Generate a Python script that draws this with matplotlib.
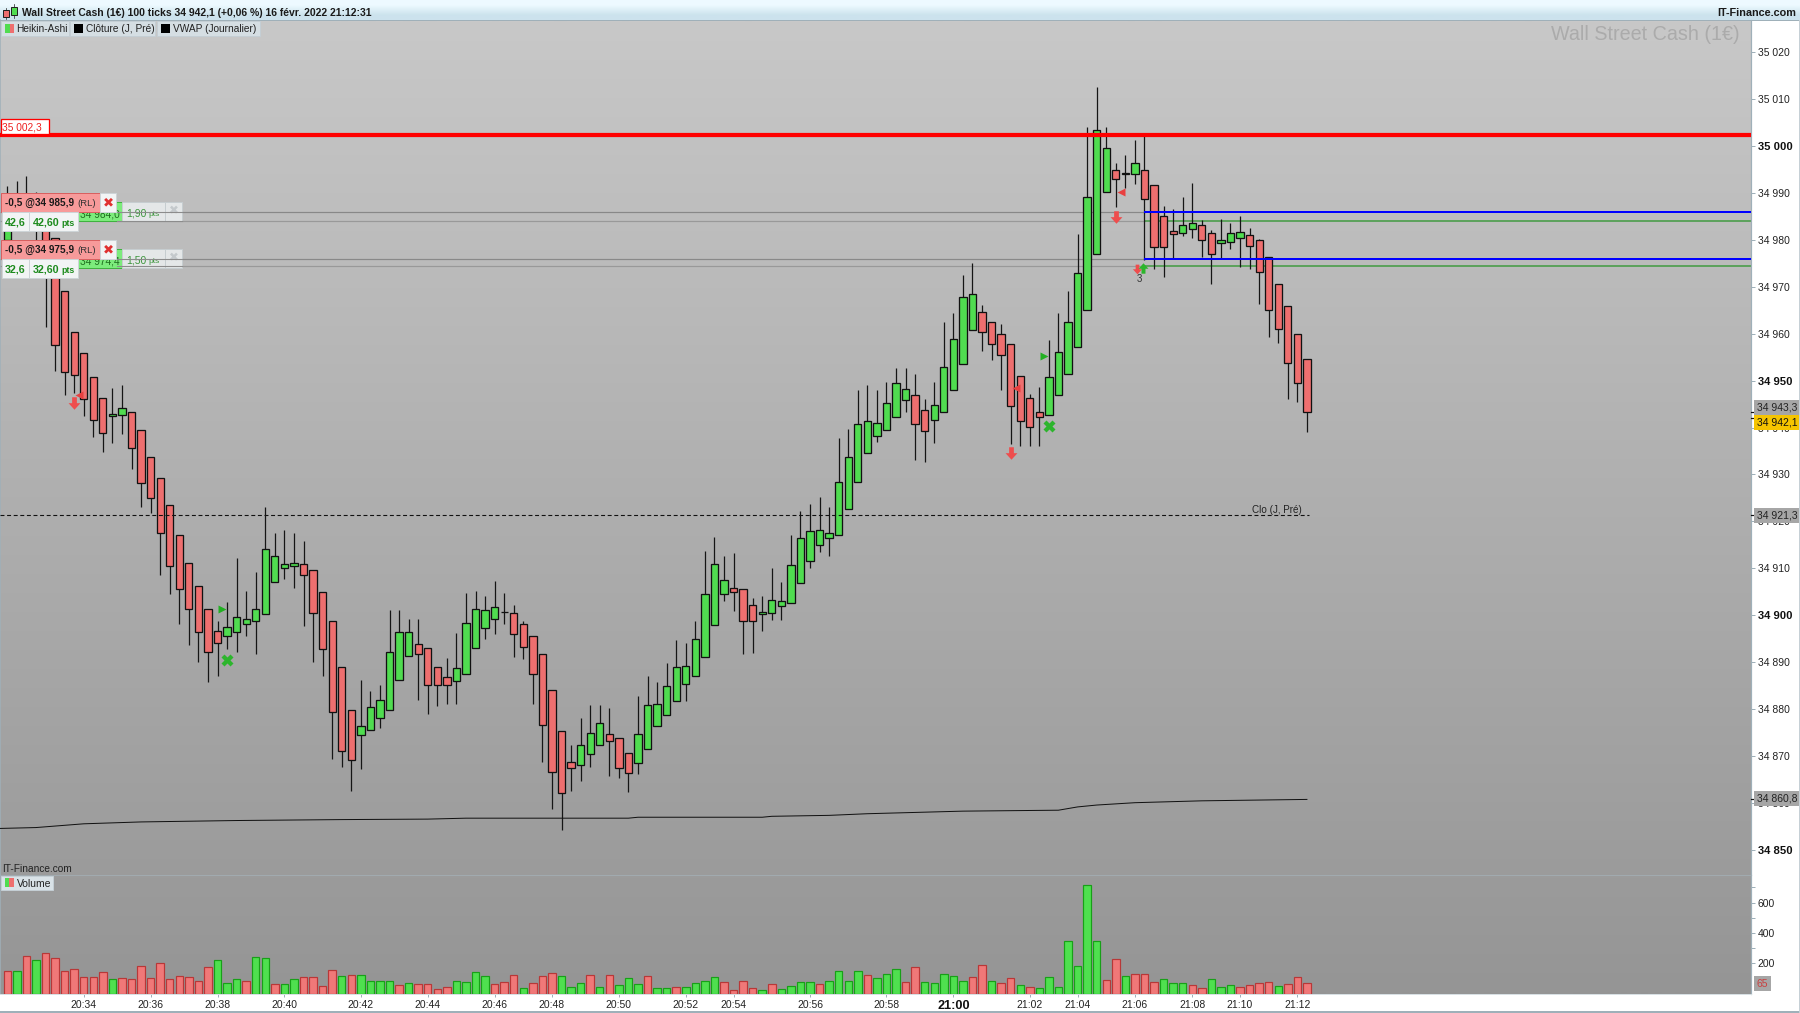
import numpy as np
import matplotlib
matplotlib.use("Agg")
import matplotlib.pyplot as plt
from matplotlib.patches import Rectangle
from matplotlib.path import Path

plt.rcParams['font.family'] = ['Liberation Sans', 'DejaVu Sans']

# ---- data: Heikin-Ashi candles ----
opens = [34980.0,34983.0,34983.4,34988.5,34985.3,34980.4,34969.1,34960.4,34955.8,34950.8,
         34946.2,34942.5,34942.7,34943.4,34939.5,34933.8,34929.2,34923.4,34917.0,34911.2,
         34906.3,34901.2,34896.7,34895.5,34896.5,34898.1,34898.7,34900.2,34907.1,34910.0,
         34910.5,34910.8,34909.6,34905.0,34898.8,34889.0,34879.8,34874.4,34875.5,34878.1,
         34879.8,34886.1,34891.2,34893.9,34892.9,34889.0,34886.9,34885.9,34887.4,34892.9,
         34897.3,34899.1,34900.6,34900.4,34898.2,34895.6,34891.6,34884.0,34875.3,34868.6,
         34868.1,34870.3,34872.4,34874.6,34873.9,34870.7,34868.5,34871.5,34876.3,34878.6,
         34881.7,34885.3,34887.1,34891.1,34897.8,34904.4,34905.8,34905.5,34902.1,34900.3,
         34900.4,34901.9,34902.5,34906.8,34911.5,34914.9,34916.4,34917.1,34922.7,34928.3,
         34934.5,34938.1,34939.5,34942.3,34945.9,34947.0,34943.8,34941.7,34943.3,34948.1,
         34953.5,34960.7,34964.7,34962.4,34960.0,34957.9,34951.0,34946.2,34943.2,34942.7,
         34946.9,34951.5,34957.1,34965.1,34977.1,34990.3,34995.0,34994.0,34994.1,34995.0,
         34991.8,34985.2,34981.8,34981.5,34982.3,34983.1,34981.5,34979.3,34979.5,34980.5,
         34981.1,34979.9,34976.4,34970.7,34965.8,34959.9,34954.7]
closes = [34987.4,34988.9,34989.4,34983.0,34974.0,34957.5,34951.9,34951.3,34946.1,34941.5,
          34938.9,34942.8,34944.1,34935.7,34928.1,34924.9,34917.6,34910.5,34905.5,34901.2,
          34896.3,34892.1,34894.1,34897.4,34899.6,34899.2,34901.4,34914.2,34912.7,34911.0,
          34911.2,34908.5,34900.4,34892.7,34879.3,34871.0,34869.0,34876.4,34880.5,34881.8,
          34892.2,34896.3,34896.5,34891.6,34885.2,34885.0,34885.0,34888.8,34898.4,34901.4,
          34901.0,34901.8,34900.6,34895.9,34893.3,34887.5,34876.5,34866.5,34862.1,34867.5,
          34872.4,34874.9,34876.9,34873.1,34867.5,34866.3,34874.6,34880.8,34881.0,34884.9,
          34888.9,34889.1,34895.0,34904.6,34910.9,34907.5,34904.9,34898.7,34898.7,34900.7,
          34903.3,34903.1,34910.6,34916.4,34918.0,34918.1,34917.6,34928.3,34933.8,34940.7,
          34941.4,34940.9,34945.3,34949.4,34948.3,34940.7,34939.2,34944.9,34952.8,34958.9,
          34967.9,34968.5,34960.3,34957.7,34955.5,34944.5,34941.3,34940.2,34942.3,34950.8,
          34956.0,34962.4,34973.0,34989.1,35003.4,34999.7,34992.9,34994.3,34996.3,34988.7,
          34978.5,34978.5,34981.3,34983.1,34983.7,34979.9,34977.1,34979.9,34981.5,34981.7,
          34978.6,34973.1,34965.1,34961.1,34953.8,34949.5,34943.2]
highs = [34991.5,34992.6,34993.6,34990.2,34987.4,34980.4,34969.1,34960.4,34955.8,34950.8,
         34946.2,34948.5,34949.1,34943.4,34939.5,34933.8,34929.2,34923.4,34917.0,34911.2,
         34906.3,34901.2,34898.7,34902.7,34912.1,34905.1,34909.1,34923.1,34917.6,34918.1,
         34917.6,34915.7,34909.6,34905.0,34898.8,34889.0,34879.8,34886.1,34883.8,34885.1,
         34901.1,34901.1,34899.2,34899.2,34892.9,34889.0,34890.8,34896.1,34904.7,34905.1,
         34904.1,34907.2,34904.7,34902.1,34898.7,34895.6,34891.6,34884.0,34875.3,34872.3,
         34878.1,34880.8,34880.8,34880.1,34873.9,34870.7,34882.8,34887.1,34885.7,34889.7,
         34894.7,34894.1,34898.7,34913.7,34916.7,34912.7,34913.2,34905.5,34903.7,34904.1,
         34910.1,34907.1,34917.1,34922.1,34923.7,34925.1,34923.1,34937.7,34939.7,34948.1,
         34949.1,34948.1,34949.6,34952.6,34952.6,34951.5,34946.1,34949.6,34962.6,34964.5,
         34972.5,34975.1,34966.1,34962.4,34962.1,34957.9,34951.0,34947.1,34948.6,34958.6,
         34964.5,34969.1,34981.2,35004.1,35012.5,35004.1,34996.5,34998.2,35001.2,35002.4,
         34991.8,34987.2,34986.5,34989.1,34992.1,34984.2,34982.1,34984.5,34983.5,34985.1,
         34982.5,34980.2,34976.4,34970.7,34965.8,34959.9,34954.7]
lows = [34979.6,34982.3,34982.5,34977.8,34961.5,34952.0,34947.0,34947.4,34942.5,34938.0,
        34934.7,34936.6,34938.6,34931.1,34923.1,34921.7,34908.6,34904.6,34898.0,34893.6,
        34890.1,34885.7,34887.1,34892.7,34892.1,34895.6,34891.6,34900.2,34907.1,34907.6,
        34905.7,34897.7,34890.1,34887.1,34869.3,34867.7,34862.4,34867.2,34875.5,34876.0,
        34879.8,34886.1,34891.2,34882.0,34879.0,34880.6,34881.0,34881.0,34887.4,34892.9,
        34895.0,34896.0,34898.0,34891.0,34890.6,34881.0,34868.6,34858.7,34854.2,34862.6,
        34864.6,34867.7,34872.4,34865.6,34865.2,34862.2,34866.2,34871.5,34876.3,34878.6,
        34881.7,34881.6,34887.1,34891.1,34897.8,34903.1,34900.9,34891.6,34892.0,34896.7,
        34899.0,34899.0,34902.5,34906.8,34910.0,34913.5,34912.7,34917.1,34922.7,34928.3,
        34934.5,34937.0,34939.5,34942.3,34943.4,34933.0,34932.6,34936.6,34943.3,34948.1,
        34953.5,34960.7,34956.4,34954.4,34948.0,34936.5,34936.1,34936.1,34936.1,34942.7,
        34946.9,34951.5,34957.1,34965.1,34977.1,34990.3,34987.1,34991.0,34992.0,34975.7,
        34973.9,34972.0,34976.1,34980.9,34980.5,34976.4,34970.5,34976.1,34978.0,34974.3,
        34973.9,34966.4,34959.4,34958.0,34946.0,34945.4,34939.0]

volumes = [149,149,247,219,265,237,149,160,107,107,142,94,101,94,180,101,199,94,114,107,
           81,173,223,68,94,81,241,237,61,61,94,107,107,50,153,114,125,125,81,81,
           81,57,68,61,61,31,44,81,74,142,114,61,74,125,37,68,118,136,118,44,
           68,125,44,125,57,101,61,114,37,37,44,44,68,81,107,74,24,81,37,24,
           61,31,50,74,74,61,81,149,81,149,125,101,129,160,74,173,74,68,129,118,
           81,112,186,81,68,101,57,44,37,107,44,346,180,712,346,88,230,118,131,131,
           74,94,68,68,57,37,94,44,57,44,57,68,74,50,61,107,68]
volume_colors = list("rgrgrrrrrr" "rgrrrrrrrr" "rrgggrggrg" "grrrrgrggg" "grgrrrrggg"
                     "grrrgrrrgg" "grgrgggrgg" "rggggrrrrg" "rggggrgggg" "rgggrrgggg"
                     "grrgrrgrgg" "gggggrrgrr" "rgggrrgggr" "rrrgrrr")

vwap_index = [-1,3,8,14,24,35,44,48,65,66,79,80,86,90,100,110,112,114,118,125,136]
vwap_price = [34854.5,34854.7,34855.5,34855.9,34856.2,34856.4,34856.5,34856.7,34856.7,34856.9,
              34856.9,34857.1,34857.3,34857.65,34858.2,34858.4,34859.1,34859.5,34860.0,34860.4,34860.7]

prev_close = 34921.3
resistance = 35002.3
stop_levels = [34985.9, 34975.9]
target_levels = [34984.0, 34974.4]
last_heikin = 34943.3
last_price = 34942.1
last_vwap = 34860.8
last_volume = 65

time_tick_index = [8,15,22,29,37,44,51,57,64,71,76,84,92,99,107,112,118,124,129,135]
time_tick_label = ["20:34","20:36","20:38","20:40","20:42","20:44","20:46","20:48","20:50","20:52",
                   "20:54","20:56","20:58","21:00","21:02","21:04","21:06","21:08","21:10","21:12"]
price_ticks = list(range(34850, 35021, 10))
volume_ticks = [200, 400, 600]
volume_minor = [300, 500, 700]

arrow_down_i = [7, 105, 116]
arrow_down_p = [34945.3, 34934.6, 34984.9]
small_down_i, small_down_p = [118.2], [34973.7]
small_up_i, small_up_p = [118.8], [34974.1]
tri_left_i = [7.5, 105.6, 116.5]
tri_left_p = [34946.9, 34948.4, 34990.3]
tri_right_i = [22.45, 108.5]
tri_right_p = [34901.3, 34955.2]
cross_i = [23, 109]
cross_p = [34890.4, 34940.4]

# ---- layout (pixels) ----
W, H = 1800, 1013
PX = 0.72
PLOT_R, TOP, SEP, BOT = 1750.7, 20.0, 874.7, 993.7
X0, DX = 7.3, 9.556
Y0, DY = 52.3, 4.69          # y pixel of 35020, pixels per point
V_PX = 0.152

GREEN, RED = '#50DC50', '#EE6F6F'
AX_C = '#9FB0B9'

fig = plt.figure(figsize=(W/100, H/100), dpi=100, facecolor='white')

def axes_px(l, t, r, b, **kw):
    return fig.add_axes([l/W, 1-b/H, (r-l)/W, (b-t)/H], **kw)

# background
bg = axes_px(0, 0, W, H, zorder=0)
bg.set_xlim(0, W); bg.set_ylim(H, 0); bg.axis('off')
grad = np.linspace(0xC8, 0x95, 300)[:, None, None].repeat(3, axis=2) / 255
bg.imshow(grad, extent=(0, PLOT_R, BOT, TOP), aspect='auto', interpolation='bilinear', zorder=0)
head = np.array([[0.93, 0.98, 1.0], [0.80, 0.89, 0.93]])[:, None, :]
bg.imshow(head, extent=(0, W, TOP, 0), aspect='auto', interpolation='bilinear', zorder=0)
bg.set_xlim(0, W); bg.set_ylim(H, 0)

xlim = ((0-X0)/DX, (PLOT_R-X0)/DX)

# main price axes
ax = axes_px(0, TOP, PLOT_R, SEP, zorder=2)
ax.patch.set_alpha(0)
ax.set_xlim(*xlim)
ax.set_ylim(35020-(SEP-Y0)/DY, 35020+(Y0-TOP)/DY)
idx = np.arange(len(opens))
o, c, hi, lo = map(np.array, (opens, closes, highs, lows))
up = c >= o
ax.vlines(idx, lo, hi, color='#151515', lw=1.25*PX, zorder=3)
ax.bar(idx, np.abs(c-o), bottom=np.minimum(o, c), width=0.76,
       color=[GREEN if u else RED for u in up], edgecolor='#111111', linewidth=1.3*PX, zorder=4)

# horizontal levels
end_i = len(opens)-1
ax.plot([xlim[0], xlim[1]], [resistance]*2, color='#FF0000', lw=4.2*PX, zorder=6, solid_capstyle='butt')
split = (1145-X0)/DX
for v in stop_levels:
    ax.plot([xlim[0], split], [v]*2, color='#888888', lw=1.2*PX, zorder=2)
    ax.plot([split, xlim[1]], [v]*2, color='#0000FF', lw=2*PX, zorder=6)
for v in target_levels:
    ax.plot([xlim[0], split], [v]*2, color='#999999', lw=1.2*PX, zorder=2)
    ax.plot([split, xlim[1]], [v]*2, color='#3F9A3F', lw=1.5*PX, zorder=2)
ax.plot([xlim[0], end_i+0.2], [prev_close]*2, color='#111111', lw=1.1*PX, ls=(0, (3.6, 2.4)), zorder=5)
ax.plot(vwap_index, vwap_price, color='#111111', lw=1.0*PX, zorder=5)
ax.text(end_i-0.5, prev_close+0.1, "Clo (J, Pré)", ha='right', va='bottom', fontsize=7.1, color='#222222', zorder=7)

# signals
down_path = Path([(-0.38,1),(0.38,1),(0.38,0.05),(0.95,0.05),(0,-1),(-0.95,0.05),(-0.38,0.05),(-0.38,1)], closed=True)
up_path = Path([(-0.38,-1),(0.38,-1),(0.38,-0.05),(0.95,-0.05),(0,1),(-0.95,-0.05),(-0.38,-0.05),(-0.38,-1)], closed=True)
ax.plot(arrow_down_i, arrow_down_p, ls='', marker=down_path, ms=9, mfc='#EE4D4D', mec='none', zorder=7)
ax.plot(small_down_i, small_down_p, ls='', marker=down_path, ms=7, mfc='#EE4D4D', mec='none', zorder=7)
ax.plot(small_up_i, small_up_p, ls='', marker=up_path, ms=7.5, mfc='#2BB52B', mec='none', zorder=7)
ax.plot(tri_left_i, tri_left_p, ls='', marker='<', ms=5.5, mfc='#E84040', mec='none', zorder=7)
ax.plot(tri_right_i, tri_right_p, ls='', marker='>', ms=5.5, mfc='#22B022', mec='none', zorder=7)
ax.plot(cross_i, cross_p, ls='', marker='X', ms=8.5, mfc='#2DB52D', mec='none', zorder=7)
ax.text(118.5, 34971.7, "3", ha='center', va='center', fontsize=7, color='#333333', zorder=7)

ax.set_xticks([])
ax.yaxis.tick_right()
ax.set_yticks(price_ticks)
ax.set_yticklabels([f"{t//1000} {t%1000:03d}" for t in price_ticks], fontsize=7.5, color='#222222')
for t, lab in zip(price_ticks, ax.get_yticklabels()):
    if t % 50 == 0:
        lab.set_fontweight('bold'); lab.set_fontsize(8.1); lab.set_color('#111111')
ax.tick_params(axis='y', length=4*PX, width=1*PX, color=AX_C, pad=2.2)
for s in ('top', 'bottom'):
    ax.spines[s].set_visible(False)
ax.spines['left'].set_color(AX_C); ax.spines['left'].set_linewidth(1.5*PX)
ax.spines['right'].set_color(AX_C); ax.spines['right'].set_linewidth(1.2*PX)

def price_box(v, txt_s, face, tc='#222222', shift_px=0):
    ax.annotate(txt_s, xy=(1, v), xycoords=ax.get_yaxis_transform(), xytext=(6.2*PX, shift_px*PX),
                textcoords='offset points', ha='left', va='center', fontsize=7.5, color=tc,
                annotation_clip=False, zorder=9,
                bbox=dict(boxstyle='square,pad=0.24', fc=face, ec='none'))
    ax.plot([1, 1.0025], [v, v], transform=ax.get_yaxis_transform(), color='#111111', lw=1.2*PX, clip_on=False, zorder=8)

price_box(last_heikin, "34 943,3", '#A6A6A6', shift_px=4.5)
price_box(prev_close, "34 921,3", '#A6A6A6')
price_box(last_vwap, "34 860,8", '#A6A6A6')
price_box(last_price, "34 942,1", '#F5C400', '#111111', shift_px=-5)

# volume axes
av = axes_px(0, SEP, PLOT_R, BOT, zorder=2)
av.patch.set_alpha(0)
av.set_xlim(*xlim)
av.set_ylim(0, (BOT-SEP)/V_PX)
fills = {'g': '#4FE04F', 'r': '#F07878'}
edges = {'g': '#18A018', 'r': '#B83838'}
vc = volume_colors
av.bar(idx, volumes, width=0.78, color=[fills[k] for k in vc], edgecolor=[edges[k] for k in vc],
       linewidth=1.2*PX, zorder=3)
av.set_xticks(time_tick_index)
av.set_xticklabels(time_tick_label, fontsize=7.5, color='#222222')
for t, lab in zip(time_tick_label, av.get_xticklabels()):
    if t == "21:00":
        lab.set_fontweight('bold'); lab.set_fontsize(9.2); lab.set_color('#111111')
av.tick_params(axis='x', length=3*PX, width=1*PX, color=AX_C, pad=2.5)
av.yaxis.tick_right()
av.set_yticks(volume_ticks)
av.set_yticklabels([str(v) for v in volume_ticks], fontsize=7.5, color='#222222')
av.set_yticks(volume_minor, minor=True)
av.tick_params(axis='y', which='both', length=4*PX, width=1*PX, color=AX_C, pad=2.2)
av.spines['top'].set_color('#A3AFB5'); av.spines['top'].set_linewidth(0.8*PX)
av.spines['bottom'].set_color('#D8E0E4'); av.spines['bottom'].set_linewidth(1*PX)
av.spines['left'].set_color(AX_C); av.spines['left'].set_linewidth(1.5*PX)
av.spines['right'].set_color(AX_C); av.spines['right'].set_linewidth(1.2*PX)
av.annotate(str(last_volume), xy=(1, last_volume), xycoords=av.get_yaxis_transform(), xytext=(6.2*PX, 0),
            textcoords='offset points', ha='left', va='center', fontsize=7.5, color='#C84040',
            annotation_clip=False, zorder=9, bbox=dict(boxstyle='square,pad=0.24', fc='#A6A6A6', ec='none'))

# interface overlay
ov = axes_px(0, 0, W, H, zorder=5)
ov.set_xlim(0, W); ov.set_ylim(H, 0); ov.axis('off'); ov.patch.set_alpha(0)

def box(x0, y0, x1, y1, fc, ec='#C4CED4', lw=1, z=1):
    ov.add_patch(Rectangle((x0, y0), x1-x0, y1-y0, fc=fc, ec=ec, lw=lw*PX, zorder=z))

def txt(x, y, s, size=7.5, color='#222222', weight='normal', ha='left', z=3):
    ov.text(x, y+0.7, s, fontsize=size, color=color, fontweight=weight, ha=ha, va='center', zorder=z)

# header
ov.plot([0, W], [20, 20], color='#9FB0B9', lw=1*PX, zorder=1)
box(3, 10, 9, 17, '#EE6F6F', '#222222')
box(10.5, 7, 16.5, 15, '#50DC50', '#222222')
ov.plot([6, 6], [8, 19], color='#222222', lw=0.7*PX, zorder=0.9)
ov.plot([13.5, 13.5], [4, 18], color='#222222', lw=0.7*PX, zorder=0.9)
txt(21.5, 12, "Wall Street Cash (1€) 100 ticks 34 942,1 (+0,06 %) 16 févr. 2022 21:12:31", 7.45, '#1A1A1A', 'bold')
txt(1796, 12, "IT-Finance.com", 7.8, '#1A1A1A', 'bold', 'right')
txt(1740, 33.5, "Wall Street Cash (1€)", 14.2, '#ABABAB', 'normal', 'right')

# legend chips
for x0, x1, swatch, label in [(1, 69, None, "Heikin-Ashi"), (70, 155, 'k', "Clôture (J, Pré)"), (157, 260, 'k', "VWAP (Journalier)")]:
    box(x0, 21, x1, 36, '#D5DEE3')
    if swatch is None:
        ov.add_patch(Rectangle((5, 23.5), 4.5, 9, fc='#50DC50', ec='none', zorder=2))
        ov.add_patch(Rectangle((9.5, 23.5), 4.5, 9, fc='#EE6F6F', ec='none', zorder=2))
        txt(16.5, 28.5, label, 7.3)
    else:
        ov.add_patch(Rectangle((x0+4, 23.5), 9, 9, fc='k', ec='none', zorder=2))
        txt(x0+16, 28.5, label, 7.3)

# red level tag
box(1, 118.5, 48.5, 133.5, 'white', '#FF0000', 1.3)
txt(2.5, 127, "35 002,3", 7.3, '#EE2020')

# order tags
for y, price, pts, tgt_price, tgt_pts in [(193, "34 985,9", "42,6", "34 984,0", "1,90"), (240, "34 975,9", "32,6", "34 974,4", "1,50")]:
    t0 = y + 9
    box(78, t0, 122, t0+19, '#7CEB7C', '#3FB23F', z=1)
    txt(80, t0+11.5, tgt_price, 7.3, '#1E6E1E', z=1.5)
    box(122, t0, 165, t0+19, '#E4E7E8', '#C6CDD0', z=1)
    txt(126, t0+10.5, tgt_pts, 7.5, '#3C963C', z=1.5)
    txt(148, t0+11.5, "pts", 6, '#3C963C', z=1.5)
    box(165, t0, 182, t0+19, '#E4E7E8', '#C6CDD0', z=1)
    txt(173.5, t0+8.5, "✖", 8.5, '#C4C9CC', ha='center', z=1.5)
    box(1, y, 100, y+19, '#F79A9A', '#D86060', z=4)
    box(100, y, 116, y+19, '#F2F4F5', '#CDD4D7', z=4)
    txt(5, y+9.3, f"-0,5 @{price}", 7.2, '#1A1A1A', 'bold', z=5)
    txt(77, y+9.3, "(RL)", 6.8, '#333333', z=5)
    txt(108, y+9.3, "✖", 9.5, '#E03030', ha='center', z=5)
    box(2, y+19, 29, y+38, '#F2F4F5', '#CDD4D7', z=4)
    box(29, y+19, 78, y+38, '#F2F4F5', '#CDD4D7', z=4)
    txt(5, y+28.3, pts, 7.7, '#1C8A1C', 'bold', z=5)
    txt(33, y+28.3, f"{pts}0", 7.7, '#1C8A1C', 'bold', z=5)
    txt(61, y+29.3, "pts", 6.3, '#1C8A1C', 'bold', z=5)

# the level lines run across the right part of the tags
for v in stop_levels + target_levels:
    yy = Y0 + (35020-v)*DY
    ov.plot([116.5, 182], [yy, yy], color='#8C8C8C', lw=1.1*PX, zorder=2)

# volume chip
txt(2, 868, "IT-Finance.com", 7.3, '#222222')
box(1, 875.5, 53, 890, '#D9E2E7')
ov.add_patch(Rectangle((4.5, 878), 4.5, 9, fc='#50DC50', ec='none', zorder=2))
ov.add_patch(Rectangle((9, 878), 4.5, 9, fc='#EE6F6F', ec='none', zorder=2))
txt(16.5, 883, "Volume", 7.5)

# frame at the bottom
ov.plot([0, W], [1011.5, 1011.5], color='#9FB0B9', lw=2*PX, zorder=1)
ov.plot([W-1, W-1], [20, 1012], color='#C6D0D6', lw=1*PX, zorder=1)

fig.savefig("out.png", dpi=100, facecolor='white')
print(len(opens), len(closes), len(highs), len(lows), len(volumes), len(volume_colors))
